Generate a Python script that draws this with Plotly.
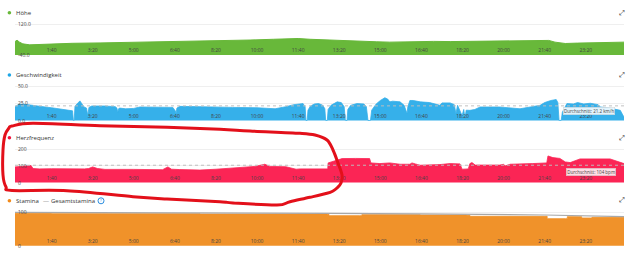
import plotly.graph_objects as go

W, H = 640, 261

# ---------------- data ----------------
tick_minutes = [100, 200, 300, 400, 500, 600, 700, 800, 900, 1000, 1100, 1200, 1300, 1400]
tick_labels = ["1:40", "3:20", "5:00", "6:40", "8:20", "10:00", "11:40", "13:20",
               "15:00", "16:40", "18:20", "20:00", "21:40", "23:20"]
x_range = [11, 1493]

hoehe_ticks = [-40, 120]
hoehe_tick_text = ["-40.0", "120.0"]
hoehe_t = [11, 16, 22, 30, 47, 70, 96, 150, 218, 280, 339, 400, 461, 520, 583, 640, 680, 700,
           729, 760, 778, 820, 851, 890, 923, 960, 997, 1030, 1070, 1110, 1143, 1180, 1216,
           1250, 1289, 1310, 1325, 1340, 1350, 1380, 1411, 1450, 1493]
hoehe_m = [30, 37, 27, 18, 13, 15, 17, 21, 23, 25, 28, 30, 34, 35, 38, 42, 47, 46,
           42, 39, 37, 34, 32, 29, 27, 29, 30, 31, 30, 31, 32, 32, 32,
           34, 37, 36, 27, 22, 20, 22, 24, 26, 27]

speed_ticks = [0, 25, 50]
speed_tick_text = ["0.0", "25.0", "50.0"]
speed_t = [11, 13, 20, 35, 50, 84, 100, 130, 145, 151, 153, 155, 157, 162, 169, 174, 179, 185,
           188, 191, 198, 230, 255, 259, 261, 263, 266, 280, 300, 315, 360, 395, 401, 403, 405,
           412, 461, 500, 540, 600, 644, 670, 690, 712, 717, 719, 722, 724, 730, 740, 750, 760,
           765, 767, 771, 773, 780, 795, 805, 812, 815, 819, 821, 828, 843, 860, 866, 870, 876,
           879, 890, 900, 911, 918, 923, 930, 936, 948, 958, 963, 965, 967, 972, 980, 997, 1020,
           1045, 1050, 1070, 1080, 1084, 1088, 1094, 1099, 1103, 1106, 1109, 1118, 1130, 1143,
           1190, 1240, 1265, 1289, 1300, 1315, 1328, 1332, 1335, 1340, 1343, 1354, 1370, 1380,
           1395, 1411, 1430, 1435, 1459, 1475, 1484, 1490, 1493]
speed_kmh = [20, 21, 23.5, 23.5, 22, 19.6, 18.5, 16, 14.7, 14, 0, 0, 21, 24, 28.4, 24, 19.6, 18,
             7, 19, 21, 21, 20, 18, 12, 17, 18, 17, 17.5, 19.6, 19.6, 19, 14, 10, 18,
             20.5, 20, 20, 19, 18.5, 17, 20, 23, 24.5, 20, 0, 0, 15, 21, 24, 24.5, 22,
             17, 0, 0, 16, 22, 27, 26, 20, 0, 0, 16, 22, 24.5, 24, 20, 0, 0,
             15, 24, 29, 33, 31, 27, 28, 28, 27, 22, 14, 10, 20, 29, 29, 27, 26,
             22, 25.5, 25.5, 23, 10, 22, 15, 7, 16, 3, 15, 14.7, 16, 19.6,
             19.6, 17, 19.6, 22, 26, 29, 30.4, 26, 0, 0, 12, 24.5, 24, 26,
             24, 25, 23, 19.6, 18, 16, 14.7, 8, 5]
speed_avg = 21.2

hr_ticks = [0, 100, 200]
hr_tick_text = ["0", "100", "200"]
hr_t = [11, 20, 40, 50, 55, 70, 100, 150, 180, 190, 200, 212, 230, 300, 370, 383, 392, 412, 461,
        500, 558, 595, 619, 625, 631, 670, 680, 695, 705, 760, 772, 773, 785, 800, 807, 840,
        874, 877, 899, 923, 948, 972, 977, 985, 997, 1045, 1070, 1094, 1099, 1114, 1118, 1123,
        1131, 1191, 1200, 1204, 1216, 1270, 1305, 1308, 1320, 1337, 1350, 1362, 1374, 1386,
        1459, 1471, 1484, 1493]
hr_bpm = [94, 96, 98, 102, 84, 82, 83, 80, 82, 84, 94, 84, 79, 79, 77, 94, 80, 78, 75,
          80, 89, 97, 110, 102, 97, 95, 89, 80, 82, 82, 82, 118, 128, 140, 144, 145,
          144, 118, 114, 118, 110, 110, 118, 112, 104, 108, 114, 112, 80, 82, 114, 120,
          105, 105, 110, 100, 110, 114, 118, 160, 150, 145, 124, 120, 133, 142,
          142, 133, 125, 114]
hr_avg = 104

stamina_ticks = [0, 100]
stamina_tick_text = ["0", "100"]
stamina_t = [11, 100, 461, 770, 775, 850, 855, 997, 1110, 1118, 1300, 1306, 1350, 1355, 1386,
             1390, 1411, 1415, 1493]
stamina_pct = [97, 96, 95, 94, 90, 90, 93, 92, 91, 88, 88, 81, 81, 87, 87, 83, 83, 85, 84]
gesamt_t = [11, 461, 770, 997, 1300, 1493]
gesamt_pct = [100, 99, 97, 95, 92, 87]

# ---------------- layout geometry ----------------
PLOT_L, PLOT_R = 15, 624
PAD = 4
panels = [
    dict(ticks=hoehe_ticks, text=hoehe_tick_text, top=24.3, bot=55.0),
    dict(ticks=speed_ticks, text=speed_tick_text, top=86.0, bot=120.5),
    dict(ticks=hr_ticks, text=hr_tick_text, top=149.3, bot=182.5),
    dict(ticks=stamina_ticks, text=stamina_tick_text, top=212.3, bot=245.8),
]

FONT = "Open Sans"
TICKFONT = dict(family=FONT, size=5, color="#444")
layout = dict(
    width=W, height=H, margin=dict(l=0, r=0, t=0, b=0),
    paper_bgcolor="white", plot_bgcolor="white", showlegend=False,
    font=dict(family=FONT, size=6, color="#333"),
)
annotations = []
for i, p in enumerate(panels):
    k = "" if i == 0 else str(i + 1)
    vmin, vmax = p["ticks"][0], p["ticks"][-1]
    upp = (vmax - vmin) / (p["bot"] - p["top"])
    layout["xaxis" + k] = dict(
        domain=[PLOT_L / W, PLOT_R / W], range=x_range, anchor="y" + k,
        tickmode="array", tickvals=tick_minutes, ticktext=tick_labels,
        ticklabelposition="inside", ticks="", ticklabelstandoff=3,
        showgrid=False, zeroline=False, showline=False, fixedrange=True,
        tickfont=TICKFONT,
    )
    # upper tick labels drawn by the axis; the lowest one is placed as an annotation
    layout["yaxis" + k] = dict(
        domain=[1 - (p["bot"] + PAD) / H, 1 - (p["top"] - PAD) / H],
        range=[vmin - PAD * upp, vmax + PAD * upp], anchor="x" + k,
        tickmode="array", tickvals=p["ticks"], ticktext=p["text"],
        ticklabelposition="inside", ticks="",
        showgrid=True, gridcolor="#efefef", gridwidth=1,
        zeroline=False, showline=False, fixedrange=True,
        tickfont=TICKFONT,
    )
    annotations.append(dict(xref="paper", yref="y" + k, x=(PLOT_L + 1) / W, y=vmin,
                            text=p["text"][0], showarrow=False, xanchor="left",
                            yanchor="middle", font=TICKFONT))

fig = go.Figure()
fig.update_layout(**layout)

GREEN, BLUE, RED, ORANGE = "#68b83a", "#36b0ea", "#fb2555", "#f0922a"

# Höhe: fill down to axis minimum
fig.add_trace(go.Scatter(x=[hoehe_t[0], hoehe_t[-1]], y=[hoehe_ticks[0]] * 2,
                         xaxis="x", yaxis="y", mode="lines", line=dict(width=0),
                         hoverinfo="skip"))
fig.add_trace(go.Scatter(x=hoehe_t, y=hoehe_m, xaxis="x", yaxis="y", mode="lines",
                         line=dict(color=GREEN, width=1), fill="tonexty", fillcolor=GREEN))
fig.add_trace(go.Scatter(x=speed_t, y=speed_kmh, xaxis="x2", yaxis="y2", mode="lines",
                         line=dict(color=BLUE, width=0.8), fill="tozeroy", fillcolor=BLUE))
fig.add_trace(go.Scatter(x=hr_t, y=hr_bpm, xaxis="x3", yaxis="y3", mode="lines",
                         line=dict(color=RED, width=0.8), fill="tozeroy", fillcolor=RED))
fig.add_trace(go.Scatter(x=stamina_t, y=stamina_pct, xaxis="x4", yaxis="y4", mode="lines",
                         line=dict(color=ORANGE, width=0.8, shape="hv"), fill="tozeroy",
                         fillcolor=ORANGE))
fig.add_trace(go.Scatter(x=gesamt_t, y=gesamt_pct, xaxis="x4", yaxis="y4", mode="lines",
                         line=dict(color="#a8a8a8", width=1.2)))

shapes = []
# average lines
for yref, val in (("y2", speed_avg), ("y3", hr_avg)):
    shapes.append(dict(type="line", xref="paper", yref=yref, x0=PLOT_L / W, x1=PLOT_R / W,
                       y0=val, y1=val, line=dict(color="rgba(190,190,190,0.95)", width=1, dash="dot")))

def P(x, y):
    return x / W, 1 - y / H

# legend dots
legend_rows = [
    (12.7, GREEN, "Höhe"),
    (75.0, "#1ea6e6", "Geschwindigkeit"),
    (137.7, "#f0163f", "Herzfrequenz"),
    (200.7, "#f28a1a", "Stamina"),
]
for yc, col, label in legend_rows:
    x0, y0 = P(7.6, yc - 1.8)
    x1, y1 = P(11.2, yc + 1.8)
    shapes.append(dict(type="circle", xref="paper", yref="paper", x0=x0, x1=x1, y0=y1, y1=y0,
                       fillcolor=col, line=dict(width=0)))
    annotations.append(dict(xref="paper", yref="paper", x=14 / W, y=1 - yc / H, text=label,
                            showarrow=False, xanchor="left", yanchor="middle",
                            font=dict(family=FONT, size=6, color="#333")))
# Gesamtstamina legend
annotations.append(dict(xref="paper", yref="paper", x=41 / W, y=1 - 200.7 / H, text="—",
                        showarrow=False, xanchor="left", yanchor="middle",
                        font=dict(family=FONT, size=6, color="#888")))
annotations.append(dict(xref="paper", yref="paper", x=48.5 / W, y=1 - 200.7 / H,
                        text="Gesamtstamina", showarrow=False, xanchor="left", yanchor="middle",
                        font=dict(family=FONT, size=6, color="#333")))
cx0, cy0 = P(98, 197.8)
cx1, cy1 = P(104, 203.8)
shapes.append(dict(type="circle", xref="paper", yref="paper", x0=cx0, x1=cx1, y0=cy1, y1=cy0,
                   line=dict(color="#2c8ee0", width=1), fillcolor="white"))
annotations.append(dict(xref="paper", yref="paper", x=101 / W, y=1 - 200.9 / H, text="?",
                        showarrow=False, xanchor="center", yanchor="middle",
                        font=dict(family=FONT, size=4, color="#2c8ee0")))

# expand icons
for yc in (13, 75, 137.5, 200):
    annotations.append(dict(xref="paper", yref="paper", x=622 / W, y=1 - yc / H, text="⤢",
                            showarrow=False, xanchor="center", yanchor="middle",
                            font=dict(family="DejaVu Sans", size=7, color="#222")))

# average labels
annotations.append(dict(xref="paper", yref="paper", x=615 / W, y=1 - 111.3 / H,
                        text="Durchschnitt: 21.2 km/h", showarrow=False, xanchor="right",
                        yanchor="middle", bgcolor="rgba(255,255,255,0.85)",
                        bordercolor="#cfd8dc", borderwidth=0.6, borderpad=0.3,
                        font=dict(family=FONT, size=4.5, color="#444")))
annotations.append(dict(xref="paper", yref="paper", x=616 / W, y=1 - 171.5 / H,
                        text="Durchschnitt: 104 bpm", showarrow=False, xanchor="right",
                        yanchor="middle", bgcolor="rgba(255,255,255,0.85)",
                        bordercolor="#d9c4c8", borderwidth=0.6, borderpad=0.6,
                        font=dict(family=FONT, size=4.5, color="#444")))

# hand-drawn red loop
loop_px = [(12, 126), (33, 123.3), (100, 125.7), (167, 127.3), (220, 129.3), (250, 131),
           (300, 133.3), (315, 135), (327, 140), (333, 150), (338, 163), (342, 175),
           (341, 183), (337, 188), (333, 191), (327, 193.3), (310, 197.3), (290, 201.7),
           (277, 205), (233, 203), (220, 201.7), (167, 199), (133, 196.7), (67, 190.7),
           (12, 190.5), (6, 187), (3, 175), (3, 150), (5, 135), (9, 128)]
n = len(loop_px)
pts = [P(x, y) for x, y in loop_px]
path = "M {:.5f},{:.5f}".format(*pts[0])
for j in range(n):
    p0, p1, p2, p3 = pts[j - 1], pts[j], pts[(j + 1) % n], pts[(j + 2) % n]
    c1 = (p1[0] + (p2[0] - p0[0]) / 6, p1[1] + (p2[1] - p0[1]) / 6)
    c2 = (p2[0] - (p3[0] - p1[0]) / 6, p2[1] - (p3[1] - p1[1]) / 6)
    path += " C {:.5f},{:.5f} {:.5f},{:.5f} {:.5f},{:.5f}".format(*c1, *c2, *p2)
shapes.append(dict(type="path", xref="paper", yref="paper", path=path,
                   line=dict(color="#e3101a", width=3)))

fig.update_layout(shapes=shapes, annotations=annotations)
fig.write_html("out.html")
